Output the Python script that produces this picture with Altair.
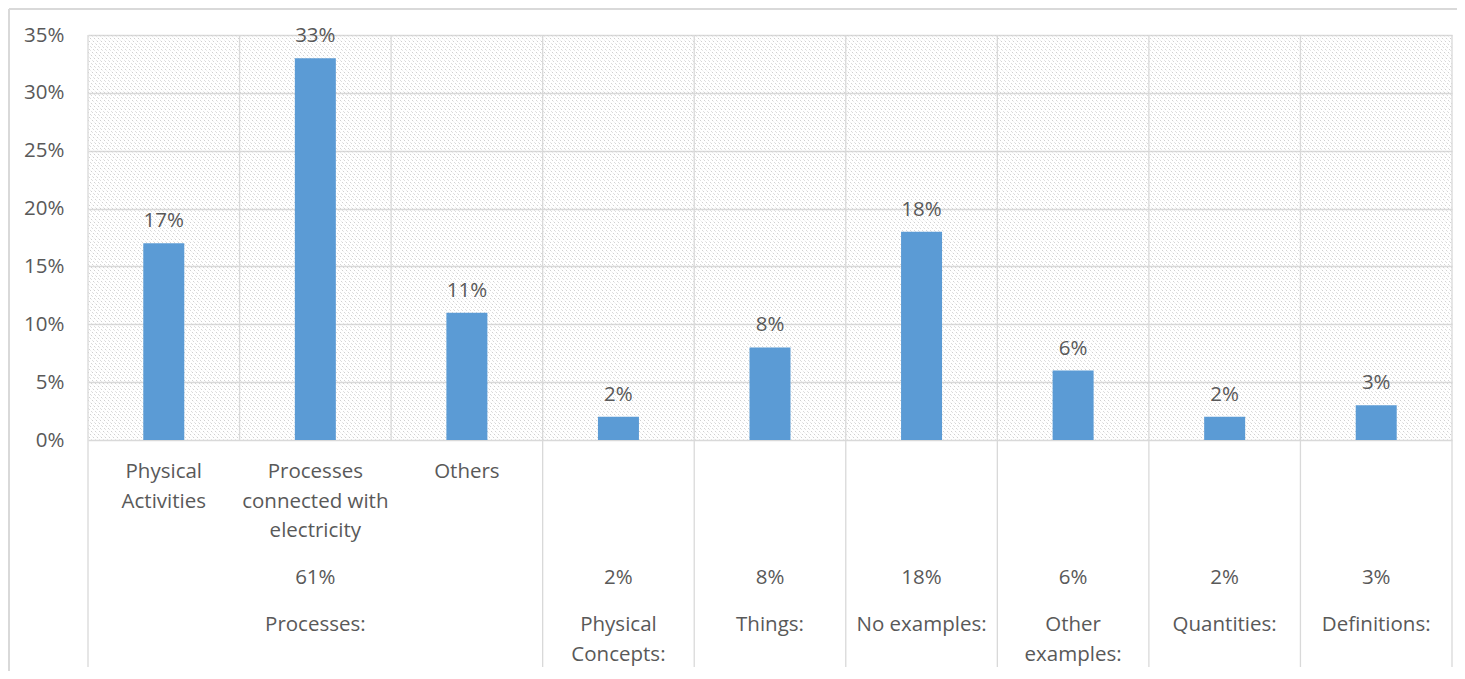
import altair as alt
import pandas as pd

# ---- data ----
sub_labels = ["Physical\nActivities", "Processes\nconnected with\nelectricity", "Others", "", "", "", "", "", ""]
values = [17, 33, 11, 2, 8, 18, 6, 2, 3]
group_names = ["Processes:", "Physical\nConcepts:", "Things:", "No examples:", "Other\nexamples:", "Quantities:", "Definitions:"]
group_totals = [61, 2, 8, 18, 6, 2, 3]
group_sizes = [3, 1, 1, 1, 1, 1, 1]
y_ticks = [0, 5, 10, 15, 20, 25, 30, 35]

W, H = 1364, 405
FONT = "Open Sans"
FS = 20.5
TXT = "#595959"
GRID = "#d9d9d9"

n = len(values)
bars = pd.DataFrame({
    "pos": [i + 0.5 for i in range(n)],
    "val": [v / 100 for v in values],
    "lab": [f"{v}%" for v in values],
    "sub": sub_labels,
})

starts = []
s = 0
for g in group_sizes:
    starts.append(s)
    s += g
groups = pd.DataFrame({
    "center": [st + g / 2 for st, g in zip(starts, group_sizes)],
    "name": group_names,
    "tot": [f"{t}%" for t in group_totals],
})
grid_x = pd.DataFrame({"b": list(range(n + 1))})
sep_x = pd.DataFrame({"b": starts + [n]})

xs = alt.Scale(domain=[0, n], nice=False, zero=False, padding=0)
ys = alt.Scale(domain=[0, 0.35], nice=False, padding=0)

# hatch background (decoration)
hatch = alt.Chart(alt.sequence(-H, W, 4, as_="k")).transform_calculate(
    hx1="datum.k", hx2="datum.k + 405"
).mark_rule(stroke="#d0d0d0", strokeWidth=1, strokeDash=[2, 2], clip=True).encode(
    x=alt.X("hx1:Q", scale=None, axis=None),
    x2="hx2:Q",
    y=alt.value(0),
    y2=alt.value(H),
)

vgrid = alt.Chart(grid_x).mark_rule(stroke=GRID, strokeWidth=1.3).encode(
    x=alt.X("b:Q", scale=xs, axis=None), y=alt.value(0), y2=alt.value(H)
)
seps = alt.Chart(sep_x).mark_rule(stroke=GRID, strokeWidth=1.3).encode(
    x=alt.X("b:Q", scale=xs, axis=None), y=alt.value(H), y2=alt.value(632)
)

base = alt.Chart(bars)
bar = base.mark_bar(width=41, color="#5b9bd5").encode(
    x=alt.X("pos:Q", scale=xs, axis=None),
    y=alt.Y("val:Q", scale=ys, axis=alt.Axis(
        values=[t / 100 for t in y_ticks], format=".0%", title=None, grid=True,
        gridColor=GRID, gridWidth=1.3, domain=False, ticks=False, labelPadding=24,
        labelFont=FONT, labelFontSize=FS, labelColor=TXT)),
)
dlab = base.mark_text(font=FONT, fontSize=FS, color=TXT, baseline="alphabetic", dy=-16).encode(
    x=alt.X("pos:Q", scale=xs, axis=None), y=alt.Y("val:Q", scale=ys), text="lab:N"
)
sublab = base.mark_text(font=FONT, fontSize=FS, color=TXT, baseline="alphabetic",
                        lineBreak="\n", lineHeight=29.5).encode(
    x=alt.X("pos:Q", scale=xs, axis=None), y=alt.value(443), text="sub:N"
)
gtot = alt.Chart(groups).mark_text(font=FONT, fontSize=FS, color=TXT, baseline="alphabetic").encode(
    x=alt.X("center:Q", scale=xs, axis=None), y=alt.value(549), text="tot:N"
)
gname = alt.Chart(groups).mark_text(font=FONT, fontSize=FS, color=TXT, baseline="alphabetic",
                                    lineBreak="\n", lineHeight=29.5).encode(
    x=alt.X("center:Q", scale=xs, axis=None), y=alt.value(596), text="name:N"
)

border = alt.Chart(grid_x).mark_rule(stroke=GRID, strokeWidth=1.3).encode(
    x=alt.value(-79), x2=alt.value(W + 5), y=alt.value(-26)
)
border2 = alt.Chart(grid_x).mark_rule(stroke=GRID, strokeWidth=1.3).encode(
    x=alt.value(-79), y=alt.value(-26), y2=alt.value(H + 231)
)

chart = alt.layer(hatch, bar, vgrid, seps, dlab, sublab, gtot, gname, border, border2).properties(
    width=W, height=H,
    autosize=alt.AutoSizeParams(type="none"),
    padding={"left": 80, "top": 27, "right": 5, "bottom": 231},
).configure_view(stroke=None)

chart.save("out.html", embed_options={"renderer": "svg", "actions": False})
